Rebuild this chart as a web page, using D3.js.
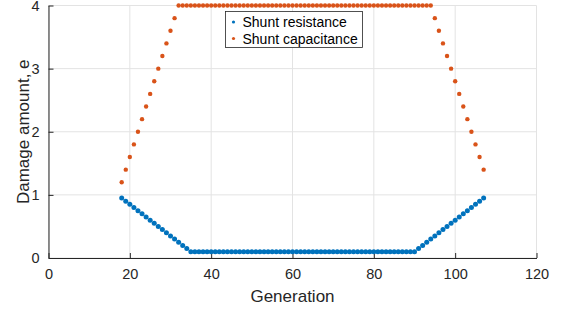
<!DOCTYPE html>
<html>
<head>
<meta charset="utf-8">
<script src="https://cdn.jsdelivr.net/npm/d3@7"></script>
<style>
  body { margin: 0; background: #fff; }
  svg { font-family: "Liberation Sans", Arial, sans-serif; }
</style>
</head>
<body>
<svg id="chart" width="561" height="314"></svg>
<script>
// generation numbers
const generation = [18,19,20,21,22,23,24,25,26,27,28,29,30,31,32,33,34,35,36,37,38,39,40,41,42,43,44,45,46,47,48,49,50,51,52,53,54,55,56,57,58,59,60,61,62,63,64,65,66,67,68,69,70,71,72,73,74,75,76,77,78,79,80,81,82,83,84,85,86,87,88,89,90,91,92,93,94,95,96,97,98,99,100,101,102,103,104,105,106,107];

const shuntResistance = [
  0.95,0.90,0.85,0.80,0.75,0.70,0.65,0.60,0.55,0.50,0.45,0.40,0.35,0.30,0.25,0.20,0.15,0.10,
  0.1,0.1,0.1,0.1,0.1,0.1,0.1,0.1,0.1,0.1,0.1,0.1,0.1,0.1,0.1,0.1,0.1,0.1,
  0.1,0.1,0.1,0.1,0.1,0.1,0.1,0.1,0.1,0.1,0.1,0.1,0.1,0.1,0.1,0.1,0.1,0.1,
  0.1,0.1,0.1,0.1,0.1,0.1,0.1,0.1,0.1,0.1,0.1,0.1,0.1,0.1,0.1,0.1,0.1,0.1,
  0.10,0.15,0.20,0.25,0.30,0.35,0.40,0.45,0.50,0.55,0.60,0.65,0.70,0.75,0.80,0.85,0.90,0.95
];

const shuntCapacitance = [
  1.2,1.4,1.6,1.8,2.0,2.2,2.4,2.6,2.8,3.0,3.2,3.4,3.6,3.8,
  4,4,4,4,4,4,4,4,4,4,4,4,4,4,4,4,4,4,4,4,4,4,4,4,4,4,4,4,4,4,4,
  4,4,4,4,4,4,4,4,4,4,4,4,4,4,4,4,4,4,4,4,4,4,4,4,4,4,4,4,4,4,4,4,
  3.8,3.6,3.4,3.2,3.0,2.8,2.6,2.4,2.2,2.0,1.8,1.6,1.4,1.2
];

const xTicks = [0, 20, 40, 60, 80, 100, 120];
const yTicks = [0, 1, 2, 3, 4];

const seriesNames = ["Shunt resistance", "Shunt capacitance"];
const seriesColors = ["#0072BD", "#D95319"];

const margin = {left: 48.5, right: 24.5, top: 5.5, bottom: 56};
const W = 561, H = 314;

const svg = d3.select("#chart");

const x = d3.scaleLinear().domain([0, 120]).range([margin.left, W - margin.right]);
const y = d3.scaleLinear().domain([0, 4]).range([H - margin.bottom, margin.top]);

// grid
const grid = svg.append("g");
grid.selectAll(".gx").data(xTicks).enter().append("line")
    .attr("x1", d => x(d)).attr("x2", d => x(d))
    .attr("y1", y(0)).attr("y2", y(4))
    .attr("stroke", "#e3e3e3").attr("stroke-width", 1);
grid.selectAll(".gy").data(yTicks).enter().append("line")
    .attr("x1", x(0)).attr("x2", x(120))
    .attr("y1", d => y(d)).attr("y2", d => y(d))
    .attr("stroke", "#e3e3e3").attr("stroke-width", 1);

// axes (inward ticks)
const xAxis = svg.append("g")
    .attr("transform", `translate(0,${y(0)})`)
    .call(d3.axisBottom(x).tickValues(xTicks).tickFormat(d3.format("d"))
        .tickSizeInner(-5).tickSizeOuter(0).tickPadding(11));
const yAxis = svg.append("g")
    .attr("transform", `translate(${x(0)},0)`)
    .call(d3.axisLeft(y).tickValues(yTicks).tickFormat(d3.format("d"))
        .tickSizeInner(-5).tickSizeOuter(0).tickPadding(9));

[xAxis, yAxis].forEach(a => {
    a.select(".domain").attr("stroke", "#262626");
    a.selectAll(".tick line").attr("stroke", "#262626");
    a.selectAll(".tick text").attr("fill", "#262626")
        .style("font-size", "14.5px")
        .style("font-family", "Liberation Sans, Arial, sans-serif");
});

// data points
const series = [shuntResistance, shuntCapacitance];
const radii = [2.5, 2.2];
series.forEach((vals, i) => {
    svg.append("g").selectAll("circle")
        .data(generation.map((g, j) => [g, vals[j]]))
        .enter().append("circle")
        .attr("cx", d => x(d[0]))
        .attr("cy", d => y(d[1]))
        .attr("r", radii[i])
        .attr("fill", seriesColors[i]);
});

// axis labels
svg.append("text")
    .attr("x", (x(0) + x(120)) / 2)
    .attr("y", 302)
    .attr("text-anchor", "middle")
    .attr("fill", "#262626")
    .style("font-size", "17px")
    .text("Generation");

svg.append("text")
    .attr("transform", `translate(29,${(y(0) + y(4)) / 2}) rotate(-90)`)
    .attr("text-anchor", "middle")
    .attr("fill", "#262626")
    .style("font-size", "17px")
    .text("Damage amount, e");

// legend
const lg = svg.append("g").attr("transform", "translate(225.5,11.5)");
lg.append("rect")
    .attr("width", 137).attr("height", 36)
    .attr("fill", "#fff").attr("stroke", "#262626").attr("stroke-width", 0.8);
seriesNames.forEach((name, i) => {
    lg.append("circle")
        .attr("cx", 8).attr("cy", 10.5 + i * 16.5)
        .attr("r", 1.6).attr("fill", seriesColors[i]);
    lg.append("text")
        .attr("x", 17).attr("y", 15.5 + i * 16.5)
        .attr("fill", "#000")
        .style("font-size", "14px")
        .text(name);
});
</script>
</body>
</html>
